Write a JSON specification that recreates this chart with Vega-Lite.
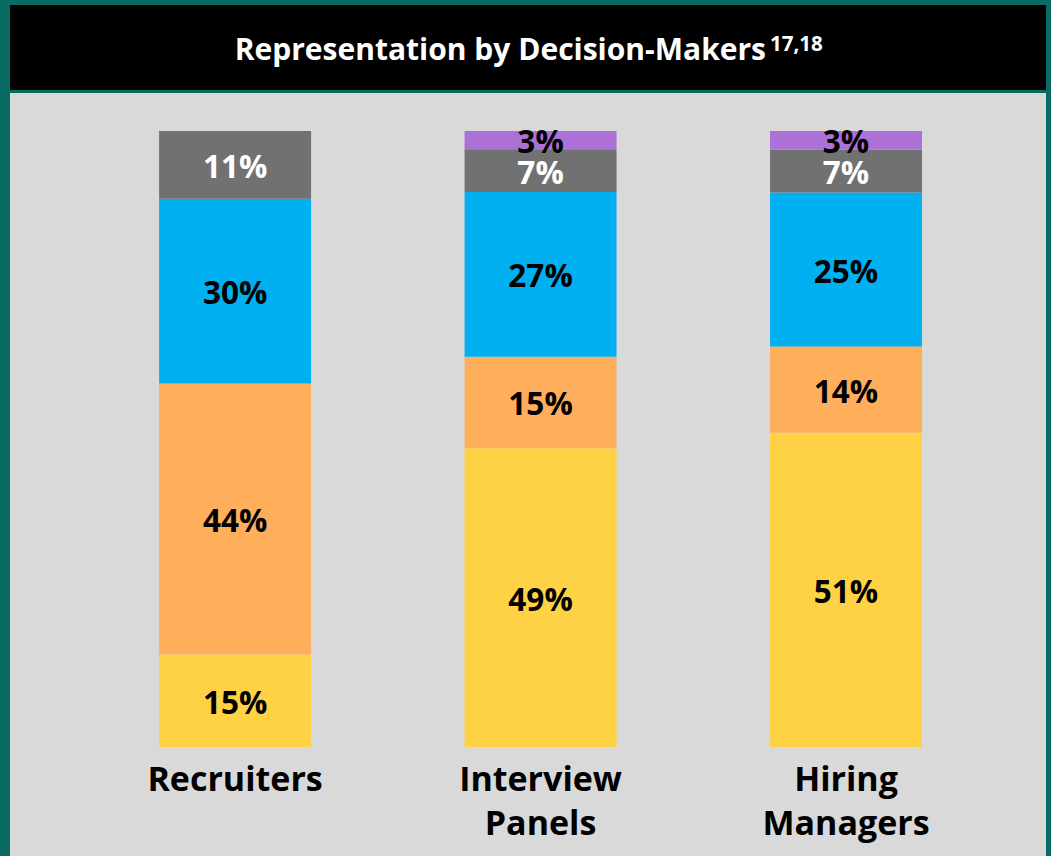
{
  "$schema": "https://vega.github.io/schema/vega-lite/v6.json",
  "background": "#0a6b65",
  "padding": {"left": 10, "top": 5, "right": 5, "bottom": 0},
  "spacing": 3,
  "config": {"view": {"stroke": null}, "font": "Open Sans"},
  "datasets": {
    "segments": [
      {"role": "Recruiters", "cat": "c1", "order": 1, "pct": 0.15},
      {"role": "Recruiters", "cat": "c2", "order": 2, "pct": 0.44},
      {"role": "Recruiters", "cat": "c3", "order": 3, "pct": 0.30},
      {"role": "Recruiters", "cat": "c4", "order": 4, "pct": 0.11},
      {"role": "Interview Panels", "cat": "c1", "order": 1, "pct": 0.49},
      {"role": "Interview Panels", "cat": "c2", "order": 2, "pct": 0.15},
      {"role": "Interview Panels", "cat": "c3", "order": 3, "pct": 0.27},
      {"role": "Interview Panels", "cat": "c4", "order": 4, "pct": 0.07},
      {"role": "Interview Panels", "cat": "c5", "order": 5, "pct": 0.03},
      {"role": "Hiring Managers", "cat": "c1", "order": 1, "pct": 0.51},
      {"role": "Hiring Managers", "cat": "c2", "order": 2, "pct": 0.14},
      {"role": "Hiring Managers", "cat": "c3", "order": 3, "pct": 0.25},
      {"role": "Hiring Managers", "cat": "c4", "order": 4, "pct": 0.07},
      {"role": "Hiring Managers", "cat": "c5", "order": 5, "pct": 0.03}
    ],
    "roles": [
      {"role": "Recruiters"},
      {"role": "Interview Panels"},
      {"role": "Hiring Managers"}
    ]
  },
  "vconcat": [
    {
      "width": 1036,
      "height": 85,
      "view": {"fill": "#000000", "stroke": null},
      "data": {"values": [{"title": "Representation by Decision-Makers", "sup": "17,18"}]},
      "layer": [
        {
          "mark": {"type": "text", "align": "right", "baseline": "alphabetic", "dx": 238, "dy": 12.5, "font": "Open Sans", "fontWeight": "bold", "fontSize": 30, "color": "#ffffff"},
          "encoding": {"text": {"field": "title", "type": "nominal"}}
        },
        {
          "mark": {"type": "text", "align": "left", "baseline": "alphabetic", "dx": 242, "dy": 3, "font": "Open Sans", "fontWeight": "bold", "fontSize": 20.5, "color": "#ffffff"},
          "encoding": {"text": {"field": "sup", "type": "nominal"}}
        }
      ]
    },
    {
      "width": 1036,
      "height": 763,
      "view": {"fill": "#d9d9d9", "stroke": null},
      "layer": [
        {
          "data": {"name": "segments"},
          "transform": [
            {"stack": "pct", "groupby": ["role"], "sort": [{"field": "order", "order": "ascending"}], "offset": "normalize", "as": ["y0", "y1"]},
            {"calculate": "(datum.y0 + datum.y1) / 2", "as": "ymid"}
          ],
          "layer": [
            {
              "mark": {"type": "bar"},
              "encoding": {
                "x": {"field": "role", "type": "nominal", "axis": null,
                      "scale": {"domain": ["Recruiters", "Interview Panels", "Hiring Managers"], "paddingInner": 0.5025, "paddingOuter": 0.447, "align": 0.546}},
                "y": {"field": "y0", "type": "quantitative", "axis": null, "scale": {"domain": [-0.177, 1.0617], "nice": false, "zero": false}},
                "y2": {"field": "y1"},
                "color": {"field": "cat", "type": "nominal", "legend": null,
                          "scale": {"domain": ["c1", "c2", "c3", "c4", "c5"], "range": ["#ffd145", "#ffae5c", "#00b0f0", "#717171", "#ab71d6"]}}
              }
            },
            {
              "mark": {"type": "text", "font": "Open Sans", "fontWeight": "bold", "fontSize": 31.5, "baseline": "middle", "align": "center", "dy": 4},
              "encoding": {
                "x": {"field": "role", "type": "nominal"},
                "y": {"field": "ymid", "type": "quantitative"},
                "text": {"field": "pct", "type": "quantitative", "format": ".0%"},
                "color": {"condition": {"test": "datum.cat === 'c4'", "value": "#ffffff"}, "value": "#000000"}
              }
            }
          ]
        },
        {
          "data": {"name": "roles"},
          "mark": {"type": "text", "font": "Open Sans", "fontWeight": "bold", "fontSize": 34, "baseline": "top", "align": "center", "lineBreak": " ", "lineHeight": 44, "color": "#000000"},
          "encoding": {
            "x": {"field": "role", "type": "nominal"},
            "y": {"datum": -0.0276, "type": "quantitative"},
            "text": {"field": "role", "type": "nominal"}
          }
        }
      ]
    }
  ]
}
